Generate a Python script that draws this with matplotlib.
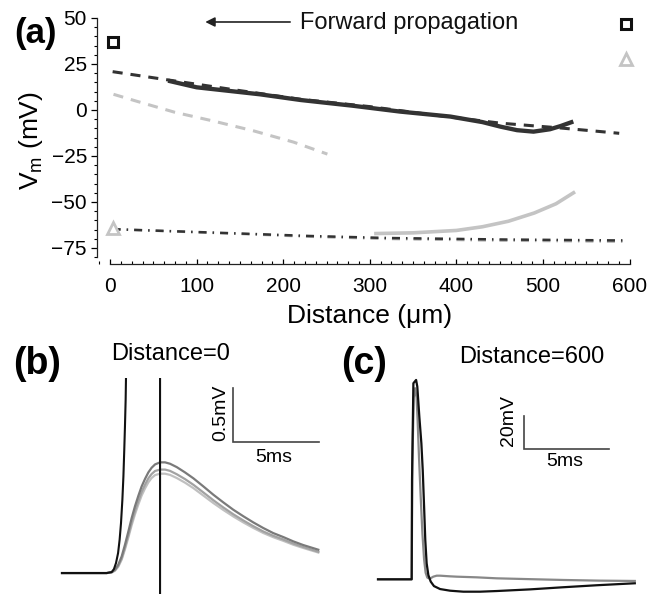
import matplotlib
matplotlib.use("Agg")
import matplotlib.pyplot as plt
from matplotlib.ticker import MultipleLocator

plt.rcParams['font.family'] = ['Liberation Sans', 'DejaVu Sans']
plt.rcParams['mathtext.fontset'] = 'custom'
plt.rcParams['mathtext.rm'] = 'Liberation Sans'

# ---------------- Panel (a) data (distance in um, Vm in mV) ----------------
blk_solid_x = [67, 100, 173, 220, 280, 335, 393, 430, 451, 470, 489, 508, 520, 535]
blk_solid_y = [15.9, 12.3, 8.5, 5.4, 2.3, -0.9, -3.6, -6.6, -9.1, -11.0, -11.8, -10.5, -8.8, -6.3]

blk_dash_x = [3, 67, 150, 220, 300, 373, 451, 520, 558, 588]
blk_dash_y = [20.8, 16.3, 10.5, 5.8, 1.8, -2.7, -7.2, -9.8, -11.4, -12.7]

gry_dash_x = [4, 31, 75, 119, 166, 212, 251]
gry_dash_y = [8.5, 4.7, -1.3, -6.0, -11.4, -17.5, -24.0]

gry_solid_x = [305, 350, 400, 430, 460, 490, 515, 537]
gry_solid_y = [-67.2, -66.8, -65.5, -63.5, -60.5, -56.0, -51.0, -44.5]

blk_dd_x = [3, 140, 230, 320, 450, 580, 592]
blk_dd_y = [-64.8, -67.0, -68.5, -69.6, -70.4, -70.9, -70.9]
gry_dd_x = [3, 140, 230, 320, 450, 595]
gry_dd_y = [-64.8, -67.2, -68.9, -70.1, -71.0, -71.6]

sq_x = [3.5, 596]
sq_y = [36.8, 46.7]
tri_x = [3, 596]
tri_y = [-64.0, 27.5]

xticks = [0, 100, 200, 300, 400, 500, 600]
yticks = [-75, -50, -25, 0, 25, 50]

# ---------------- Panel (b) data (time ms, dV mV) ----------------
b_t = [0, 2.60, 2.89, 3.08, 3.27, 3.47, 3.66, 3.86, 4.05, 4.24, 4.44, 4.63, 4.83, 5.02,
       5.21, 5.41, 5.70, 5.99, 6.28, 6.67, 7.15, 7.64, 8.22, 8.80, 9.38, 9.96, 10.55,
       11.12, 11.70, 12.28, 12.87, 13.45, 14.03, 14.90]
b_dark = [0, 0, 0.009, 0.031, 0.077, 0.154, 0.262, 0.386, 0.509, 0.617, 0.716, 0.802,
          0.873, 0.932, 0.975, 1.006, 1.025, 1.025, 1.012, 0.981, 0.932, 0.877, 0.802,
          0.725, 0.654, 0.586, 0.525, 0.469, 0.417, 0.370, 0.333, 0.293, 0.259, 0.216]
b_mid = [0, 0, 0.007, 0.026, 0.066, 0.136, 0.236, 0.352, 0.469, 0.572, 0.668, 0.752,
         0.820, 0.877, 0.917, 0.945, 0.958, 0.958, 0.946, 0.915, 0.870, 0.817, 0.746,
         0.674, 0.607, 0.544, 0.486, 0.434, 0.385, 0.345, 0.310, 0.273, 0.241, 0.197]
b_light = [0, 0, 0.005, 0.022, 0.058, 0.124, 0.219, 0.331, 0.443, 0.543, 0.636, 0.718,
           0.785, 0.840, 0.880, 0.907, 0.920, 0.920, 0.909, 0.880, 0.837, 0.786, 0.717,
           0.648, 0.584, 0.524, 0.468, 0.418, 0.371, 0.332, 0.298, 0.262, 0.232, 0.190]
b_spike_t = [0, 2.60, 2.89, 3.02, 3.14, 3.26, 3.35, 3.43, 3.51, 3.57, 3.62, 3.66, 3.70,
             3.72, 3.80, 5.70, 5.70]
b_spike_v = [0, 0, 0.009, 0.037, 0.093, 0.185, 0.309, 0.463, 0.679, 0.895, 1.142, 1.358,
             1.605, 1.806, 20, 20, -20]

# ---------------- Panel (c) data (time ms, dV mV) ----------------
c_blk_t = [0, 1.98, 2.00, 2.08, 2.24, 2.31, 2.43, 2.55, 2.63, 2.71, 2.78, 2.86, 2.96,
           3.10, 3.29, 3.65, 4.24, 5.02, 6.0, 6.98, 8.94, 10.9, 12.86, 15.1]
c_blk_v = [0, 0, 60, 118.8, 120.8, 116.8, 98.6, 82.4, 66.2, 44, 23.8, 9.7, 2.6,
           -1.4, -4.1, -5.9, -6.9, -7.5, -7.5, -7.1, -6.1, -4.8, -3.6, -2.4]
c_gry_t = [0, 1.98, 2.02, 2.10, 2.18, 2.27, 2.33, 2.41, 2.51, 2.61, 2.71, 2.80, 2.90,
           3.05, 3.25, 3.45, 3.65, 4.24, 4.63, 5.8, 6.98, 8.9, 10.9, 13.0, 15.1]
c_gry_v = [0, 0, 70, 110, 115.8, 110, 96, 74, 50, 28, 12, 4, 1,
           0.4, 1.6, 2.2, 2.2, 1.8, 1.6, 1.2, 0.6, 0.1, -0.4, -0.8, -1.0]

W, H = 662, 594
fig = plt.figure(figsize=(W / 100, H / 100), dpi=100)


def rect(x0, y0, x1, y1):
    return [x0 / W, 1 - y1 / H, (x1 - x0) / W, (y1 - y0) / H]


# ================= Panel (a) =================
ax = fig.add_axes(rect(96.7, 15, 640, 264.3))
ax.set_xlim(-15.4, 612)
ax.set_ylim(-83.9, 51.6)

dk = '#333333'
lg = '#c4c4c4'
ax.plot(blk_dd_x, blk_dd_y, color=dk, lw=1.8, dashes=(3.2, 2.4, 0.6, 2.4), zorder=3)
ax.plot(gry_dd_x, gry_dd_y, color='#b0b0b0', lw=1.8, dashes=(3.2, 2.4, 0.6, 2.4), zorder=2)
ax.plot(gry_solid_x, gry_solid_y, color=lg, lw=2.6, solid_capstyle='butt', zorder=2)
ax.plot(gry_dash_x, gry_dash_y, color=lg, lw=2.2, dashes=(3.3, 2.6), zorder=2)
ax.plot(blk_dash_x, blk_dash_y, color=dk, lw=2.2, dashes=(3.3, 2.6), zorder=3)
ax.plot(blk_solid_x, blk_solid_y, color=dk, lw=3.1, solid_capstyle='butt',
        solid_joinstyle='round', zorder=4)

ax.plot(sq_x, sq_y, ls='none', marker='s', ms=7, mfc='white', mec='#111111', mew=2.2,
        clip_on=False, zorder=5)
ax.plot(tri_x, tri_y, ls='none', marker='^', ms=9, mfc='white', mec=lg, mew=2.0,
        clip_on=False, zorder=5)

ax.annotate('', xy=(110, 47.8), xytext=(208, 47.8),
            arrowprops=dict(arrowstyle='-|>', lw=1.2, color='#222222', mutation_scale=14,
                            shrinkA=0, shrinkB=0))
ax.text(219, 47.0, 'Forward propagation', fontsize=17, ha='left', va='center', color='#111111')

for s in ['top', 'right']:
    ax.spines[s].set_visible(False)
ax.spines['left'].set_bounds(-80, 50)
ax.spines['bottom'].set_bounds(0, 600)
for s in ['left', 'bottom']:
    ax.spines[s].set_linewidth(0.9)
    ax.spines[s].set_color('#222222')

ax.set_xticks(xticks)
ax.set_yticks(yticks)
ax.set_yticklabels([str(v).replace('-', '\u2212') for v in yticks])
ax.xaxis.set_minor_locator(MultipleLocator(12.5))
ax.yaxis.set_minor_locator(MultipleLocator(5))
ax.tick_params(axis='y', which='major', direction='out', length=4.5, width=0.9, labelsize=15, pad=2.5)
ax.tick_params(axis='y', which='minor', direction='out', length=2.4, width=0.8)
ax.tick_params(axis='x', which='major', direction='in', length=3.6, width=0.9, labelsize=15, pad=9)
ax.tick_params(axis='x', which='minor', direction='in', length=2.2, width=0.8)

fig.text(369.6 / W, 1 - 322.7 / H, 'Distance (\u03bcm)', fontsize=19, ha='center', va='baseline')
fig.text(31 / W, 1 - 141 / H, r'$\mathregular{V_m}$ (mV)', fontsize=19, rotation=90,
         ha='center', va='center')
fig.text(35 / W, 1 - 33 / H, '(a)', fontsize=25, fontweight='bold', ha='center', va='center')

# ================= Panel (b) =================
bx = fig.add_axes(rect(55, 378, 330, 594))
bx.set_xlim(-0.407, 15.58)
bx.set_ylim(-0.194, 1.806)
bx.axis('off')
bx.plot(b_t, b_light, color='#c0c0c0', lw=1.6)
bx.plot(b_t, b_mid, color='#a2a2a2', lw=1.6)
bx.plot(b_t, b_dark, color='#7a7a7a', lw=1.6)
bx.plot(b_spike_t, b_spike_v, color='#111111', lw=1.5)
bx.plot([9.94, 9.94, 14.94], [1.71, 1.21, 1.21], color='#444444', lw=1.2,
        solid_joinstyle='miter')
fig.text(221 / W, 1 - 412.5 / H, '0.5mV', fontsize=14, rotation=90, ha='center', va='center')
fig.text(274 / W, 1 - 457.5 / H, '5ms', fontsize=14, ha='center', va='center')
fig.text(171 / W, 1 - 354 / H, 'Distance=0', fontsize=17, ha='center', va='center')
fig.text(37.5 / W, 1 - 364 / H, '(b)', fontsize=27, fontweight='bold', ha='center', va='center')

# ================= Panel (c) =================
cx = fig.add_axes(rect(365, 375, 645, 594))
cx.set_xlim(-0.765, 15.7)
cx.set_ylim(-8.9, 123.8)
cx.axis('off')
cx.plot(c_gry_t, c_gry_v, color='#888888', lw=1.6)
cx.plot(c_blk_t, c_blk_v, color='#111111', lw=1.6)
cx.plot([8.59, 8.59, 13.59], [99, 79, 79], color='#444444', lw=1.2, solid_joinstyle='miter')
fig.text(508.5 / W, 1 - 420 / H, '20mV', fontsize=14, rotation=90, ha='center', va='center')
fig.text(565 / W, 1 - 461 / H, '5ms', fontsize=14, ha='center', va='center')
fig.text(531.5 / W, 1 - 357 / H, 'Distance=600', fontsize=17, ha='center', va='center')
fig.text(364.5 / W, 1 - 363.5 / H, '(c)', fontsize=27, fontweight='bold', ha='center', va='center')

fig.savefig('out.png', dpi=100)
